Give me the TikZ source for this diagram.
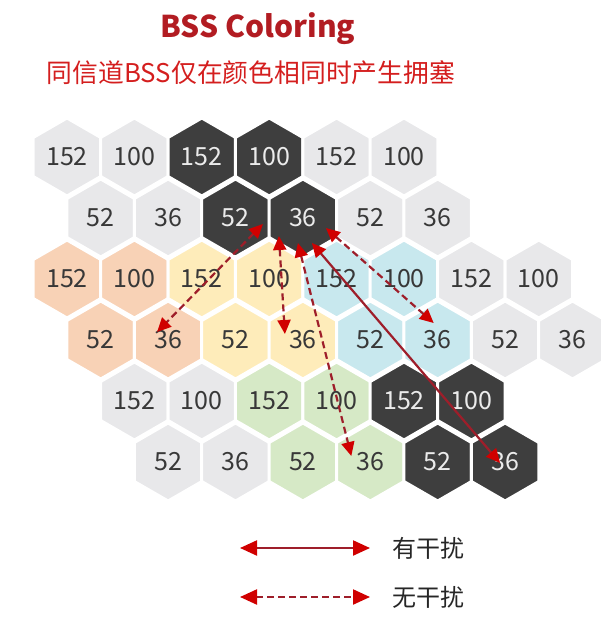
\documentclass[tikz,border=0pt]{standalone}
\usepackage{fontspec}
\setmainfont{Noto Sans CJK SC}
\usetikzlibrary{shapes.geometric,arrows.meta}
\definecolor{hgray}{RGB}{232,232,234}
\definecolor{hdark}{RGB}{62,62,62}
\definecolor{horange}{RGB}{248,210,182}
\definecolor{hyellow}{RGB}{254,236,186}
\definecolor{hblue}{RGB}{200,232,238}
\definecolor{hgreen}{RGB}{214,233,198}
\definecolor{tred}{RGB}{178,28,34}
\definecolor{sred}{RGB}{212,30,30}
\definecolor{ared}{RGB}{158,30,42}
\definecolor{tipred}{RGB}{208,0,0}

\begin{document}
\begin{tikzpicture}[x=1pt,y=-1pt]
      \useasboundingbox (0,0) rectangle (600,623);
      \tikzset{H/.style = {shape=regular polygon, regular polygon sides=6, shape border rotate=30,
          minimum size=78pt, inner sep=0pt, draw=white, line width=3pt, fill=hgray,
          text=black!78, font=\fontsize{25}{25}\selectfont}}
      \tikzset{D/.style = {H, fill=hdark, text=black!8}}
      \tikzset{O/.style = {H, fill=horange}}
      \tikzset{Y/.style = {H, fill=hyellow}}
      \tikzset{B/.style = {H, fill=hblue}}
      \tikzset{G/.style = {H, fill=hgreen}}
      \tikzset{A/.style = {draw=ared, line width=2.2pt, >={Triangle[length=14pt,width=13pt,color=tipred]}, <->}}
      \tikzset{AD/.style = {A, dash pattern=on 7pt off 4pt}}
      \tikzset{L/.style = {>={Triangle[length=17pt,width=15pt,color=tipred]}}}
      \node[font=\bfseries\fontsize{30}{30}\selectfont, text=tred](title) at (258,29) {BSS Coloring};
      \node[font=\fontsize{25.8}{26}\selectfont, text=sred](sub) at (251,73) {同信道BSS仅在颜色相同时产生拥塞};
      % row 1
      \node[H](h11) at (67,157) {152};
      \node[H](h12) at (134.4,157) {100};
      \node[D](h13) at (201.8,157) {152};
      \node[D](h14) at (269.2,157) {100};
      \node[H](h15) at (336.6,157) {152};
      \node[H](h16) at (404,157) {100};
      % row 2
      \node[H](h21) at (100.7,218) {52};
      \node[H](h22) at (168.1,218) {36};
      \node[D](h23) at (235.5,218) {52};
      \node[D](h24) at (302.9,218) {36};
      \node[H](h25) at (370.3,218) {52};
      \node[H](h26) at (437.7,218) {36};
      % row 3
      \node[O](h31) at (67,279) {152};
      \node[O](h32) at (134.4,279) {100};
      \node[Y](h33) at (201.8,279) {152};
      \node[Y](h34) at (269.2,279) {100};
      \node[B](h35) at (336.6,279) {152};
      \node[B](h36) at (404,279) {100};
      \node[H](h37) at (471.4,279) {152};
      \node[H](h38) at (538.8,279) {100};
      % row 4
      \node[O](h41) at (100.7,340) {52};
      \node[O](h42) at (168.1,340) {36};
      \node[Y](h43) at (235.5,340) {52};
      \node[Y](h44) at (302.9,340) {36};
      \node[B](h45) at (370.3,340) {52};
      \node[B](h46) at (437.7,340) {36};
      \node[H](h47) at (505.1,340) {52};
      \node[H](h48) at (572.5,340) {36};
      % row 5
      \node[H](h51) at (134.4,401) {152};
      \node[H](h52) at (201.8,401) {100};
      \node[G](h53) at (269.2,401) {152};
      \node[G](h54) at (336.6,401) {100};
      \node[D](h55) at (404,401) {152};
      \node[D](h56) at (471.4,401) {100};
      % row 6
      \node[H](h61) at (168.1,462) {52};
      \node[H](h62) at (235.5,462) {36};
      \node[G](h63) at (302.9,462) {52};
      \node[G](h64) at (370.3,462) {36};
      \node[D](h65) at (437.7,462) {52};
      \node[D](h66) at (505.1,462) {36};
      % interference arrows
      \draw[AD] ([shift={(-40,6)}]h24.center) to ([shift={(-11,-8)}]h42.center);
      \draw[AD] ([shift={(-24,18)}]h24.center) to ([shift={(-18,-6)}]h44.center);
      \draw[AD] ([shift={(-5,25)}]h24.center) to ([shift={(-19,-6)}]h64.center);
      \draw[AD] ([shift={(23,10)}]h24.center) to ([shift={(-4,-17)}]h46.center);
      \draw[A] ([shift={(9,25)}]h24.center) to ([shift={(-5,1)}]h66.center);
      % legend
      \coordinate (l1a) at (240,548);
      \coordinate (l1b) at (370,548);
      \coordinate (l2a) at (240,597);
      \coordinate (l2b) at (370,597);
      \node[font=\fontsize{24}{24}\selectfont, text=black!85](t1) at (428,548) {有干扰};
      \node[font=\fontsize{24}{24}\selectfont, text=black!85](t2) at (428,597) {无干扰};
      \draw[A,L] (l1a) to (l1b);
      \draw[AD,L] (l2a) to (l2b);
\end{tikzpicture}
\end{document}
